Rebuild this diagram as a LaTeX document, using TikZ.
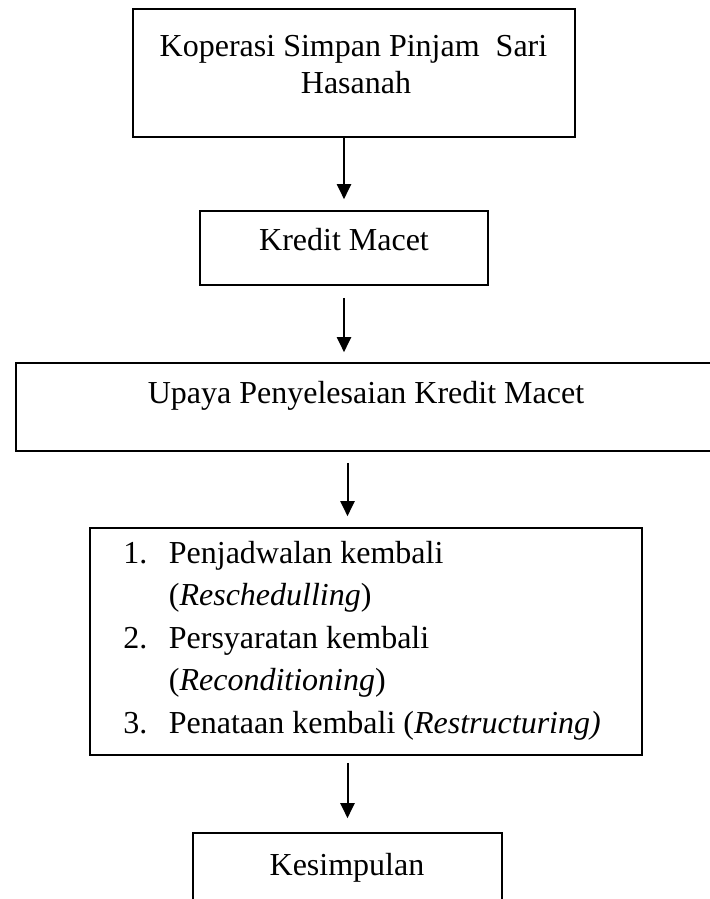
\documentclass[tikz,border=0pt]{standalone}
\usepackage{fontspec}
\setmainfont{Liberation Serif}
\usetikzlibrary{arrows.meta}
\begin{document}
\begin{tikzpicture}[x=0.5pt,y=-0.5pt,
  box/.style={draw, line width=0.8pt, inner sep=0pt, minimum width=#1},
  txt/.style={inner sep=0pt, font=\fontsize{16}{18}\selectfont},
  arr/.style={line width=1pt, -{Triangle[width=7pt,length=7.5pt]}}]
\useasboundingbox (0,0) rectangle (710,899);
\clip (0,0) rectangle (710,899);
% boxes
\node[box=221pt, minimum height=64pt]   (b1) at (354,73) {};
\node[box=144pt, minimum height=37pt]   (b2) at (344,248) {};
\node[box=350pt, minimum height=44pt]   (b3) at (366,407) {};
\node[box=276pt, minimum height=113.5pt] (b4) at (366,641.5) {};
\node[box=154.5pt, minimum height=60pt] (b5) at (347.5,893) {};
% texts
\node[txt, anchor=base] (t1a) at (353.5,57) {Koperasi Simpan Pinjam\ \ Sari};
\node[txt, anchor=base] (t1b) at (356,94) {Hasanah};
\node[txt, anchor=base] (t2) at (344,250) {Kredit Macet};
\node[txt, anchor=base] (t3) at (366,403) {Upaya Penyelesaian Kredit Macet};
\node[txt, anchor=base west] (t4a) at (123,563) {\makebox[22.75pt][l]{1.}Penjadwalan kembali};
\node[txt, anchor=base west] (t4b) at (123,605.5) {\makebox[22.75pt][l]{}(\textit{Reschedulling})};
\node[txt, anchor=base west] (t4c) at (123,648) {\makebox[22.75pt][l]{2.}Persyaratan kembali};
\node[txt, anchor=base west] (t4d) at (123,690.5) {\makebox[22.75pt][l]{}(\textit{Reconditioning})};
\node[txt, anchor=base west] (t4e) at (123,733) {\makebox[22.75pt][l]{3.}Penataan kembali (\textit{Restructuring)}};
\node[txt, anchor=base] (t5) at (347,875) {Kesimpulan};
% arrows
\draw[arr, shorten >=5.5pt] (b1.south -| b2.north) -- (b2.north);
\draw[arr, shorten <=6pt, shorten >=5pt] (b2.south) -- (b2.south |- b3.north);
\draw[arr, shorten <=5.5pt, shorten >=5.5pt] (b3.south -| b5.north) -- (b4.north -| b5.north);
\draw[arr, shorten <=3.5pt, shorten >=7pt] (b4.south -| b5.north) -- (b5.north);
\end{tikzpicture}
\end{document}
